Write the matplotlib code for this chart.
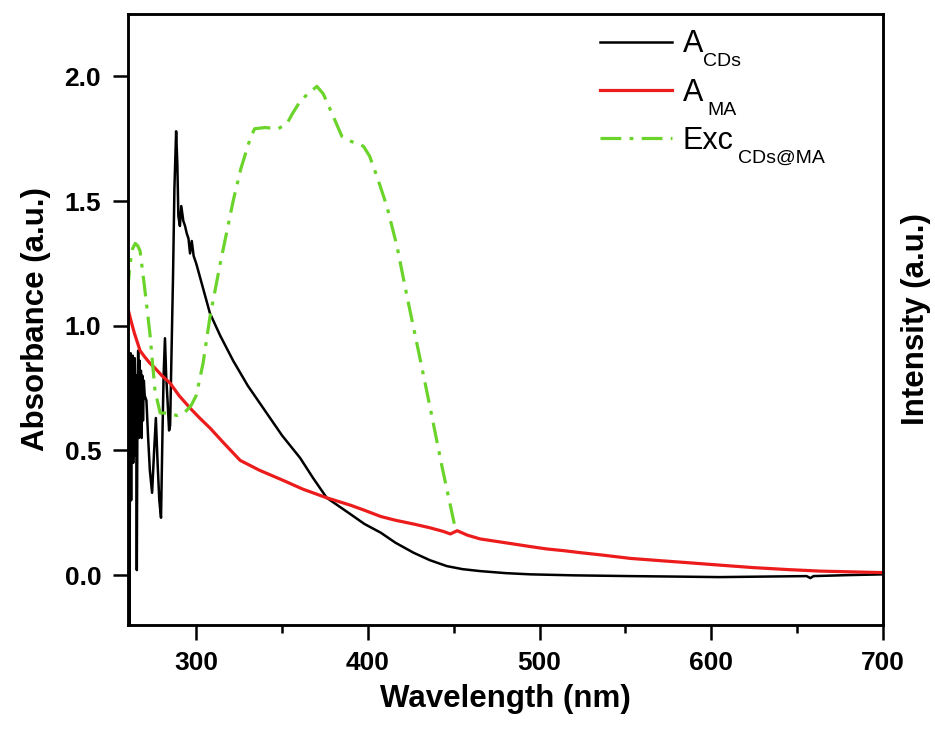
import matplotlib
matplotlib.use("Agg")
import matplotlib.pyplot as plt
from matplotlib.ticker import MultipleLocator, FormatStrFormatter

plt.rcParams['font.family'] = ['Liberation Sans', 'DejaVu Sans']

# A_CDs absorbance
cds_x = [260.0, 260.4, 260.8, 261.1, 261.5, 261.8, 262.1, 262.4, 262.7, 263.0, 263.3, 263.6,
         263.9, 264.2, 264.6, 265.0, 265.4, 265.8, 266.2, 266.6, 267.0, 267.4, 267.8, 268.2,
         268.6, 269.0, 269.5, 270.0, 271.0, 272.0,
         273.0, 274.3, 275.5, 276.5, 277.5, 278.5, 279.5, 280.3, 281.0, 281.8, 282.5, 283.3,
         284.2, 284.8, 285.5, 286.5, 287.3, 288.3, 289.0, 289.6, 290.5, 291.3, 292.5, 293.5,
         294.5, 295.5, 296.4, 297.4, 298.5, 300.0, 302.0, 306.0, 308.0, 314.0, 321.5, 330.0,
         341.0, 350.0, 360.5, 368.0, 376.0, 389.7, 398.0, 407.5, 416.0, 426.5, 436.0, 446.0,
         455.0, 465.4, 480.0, 494.6, 520.0, 552.8, 580.0, 605.0, 630.0, 655.5, 657.7, 659.5,
         680.0, 700.0]
cds_y = [0.85, 0.40, 0.88, -0.20, 0.60, 0.89, 0.30, 0.86, 0.50, 0.88, 0.45, 0.84,
         0.62, 0.87, 0.48, 0.80, 0.02, 0.72, 0.90, 0.55, 0.86, 0.60, 0.82, 0.55,
         0.80, 0.62, 0.78, 0.72, 0.70, 0.55,
         0.42, 0.33, 0.50, 0.63, 0.45, 0.30, 0.23, 0.55, 0.80, 0.95, 0.80, 0.70,
         0.58, 0.60, 0.85, 1.20, 1.55, 1.78, 1.65, 1.44, 1.40, 1.48, 1.42, 1.40,
         1.37, 1.35, 1.29, 1.34, 1.28, 1.25, 1.20, 1.10, 1.05, 0.96, 0.86, 0.76,
         0.65, 0.56, 0.47, 0.39, 0.31, 0.245, 0.205, 0.17, 0.13, 0.09, 0.06, 0.036,
         0.024, 0.016, 0.008, 0.003, -0.001, -0.004, -0.006, -0.008, -0.006, -0.004, -0.012, -0.004,
         0.000, 0.003]

# A_MA absorbance
ma_x = [260.0, 262.0, 264.0, 267.3, 270.0, 273.0, 276.0, 280.0, 284.8, 290.0, 296.4, 302.0,
        308.0, 316.0, 325.6, 337.0, 350.6, 362.0, 376.0, 390.0, 398.0, 407.5, 416.0, 426.5,
        436.0, 444.0, 448.0, 452.0, 458.0, 465.4, 475.0, 484.6, 494.0, 504.0, 514.0, 523.7,
        537.0, 552.8, 570.0, 585.9, 605.0, 624.6, 645.0, 663.5, 682.0, 700.0]
ma_y = [1.075, 1.02, 0.97, 0.90, 0.875, 0.85, 0.83, 0.80, 0.77, 0.72, 0.67, 0.63,
        0.59, 0.53, 0.46, 0.42, 0.38, 0.345, 0.31, 0.28, 0.26, 0.235, 0.22, 0.205,
        0.19, 0.175, 0.165, 0.178, 0.16, 0.145, 0.135, 0.125, 0.115, 0.105, 0.098, 0.09,
        0.08, 0.067, 0.058, 0.05, 0.04, 0.03, 0.022, 0.016, 0.013, 0.01]

# Exc_CDs@MA excitation
exc_x = [260.0, 261.5, 263.0, 264.5, 266.0, 267.3, 270.0, 273.0, 276.0, 279.0, 283.6, 288.7,
         293.0, 297.0, 300.0, 304.0, 308.0, 314.0, 321.5, 326.0, 331.4, 334.0, 340.0, 347.7,
         352.8, 356.0, 360.5, 365.0, 370.3, 374.0, 379.8, 384.8, 390.0, 397.4, 401.0, 405.2,
         411.0, 416.9, 422.7, 430.0, 436.0, 443.0, 450.8]
exc_y = [1.14, 1.25, 1.31, 1.33, 1.32, 1.30, 1.15, 0.97, 0.74, 0.65, 0.65, 0.64,
         0.65, 0.68, 0.72, 0.85, 1.035, 1.25, 1.50, 1.63, 1.75, 1.79, 1.795, 1.79,
         1.81, 1.85, 1.90, 1.93, 1.96, 1.93, 1.84, 1.76, 1.74, 1.72, 1.68, 1.60,
         1.48, 1.32, 1.12, 0.88, 0.68, 0.44, 0.19]

labels = ['A', 'A', 'Exc']
subs = ['CDs', 'MA', 'CDs@MA']
sub_gap = [0, 3, 3]

fig = plt.figure(figsize=(9.35, 7.29), dpi=100)
ax = fig.add_axes([0.1364, 0.1427, 0.808, 0.838])

ax.plot(cds_x, cds_y, color='black', lw=1.8, label=labels[0])
ax.plot(ma_x, ma_y, color='#ec1c1c', lw=2.3, label=labels[1])
ax.plot(exc_x, exc_y, color='#6bd42a', lw=2.3, dashes=(6.5, 2.6, 1.2, 2.6),
        label=labels[2])

ax.set_xlim(260, 700)
ax.set_ylim(-0.2, 2.25)
ax.xaxis.set_major_locator(MultipleLocator(100))
ax.xaxis.set_minor_locator(MultipleLocator(50))
ax.yaxis.set_major_locator(MultipleLocator(0.5))
ax.yaxis.set_major_formatter(FormatStrFormatter('%.1f'))

for s in ax.spines.values():
    s.set_linewidth(1.8)
ax.tick_params(which='major', direction='out', length=11, width=1.8,
               labelsize=19, pad=8)
ax.tick_params(which='minor', direction='out', length=6, width=1.8)
ax.tick_params(axis='both', which='both', top=False, right=False)
for lab in ax.get_xticklabels() + ax.get_yticklabels():
    lab.set_fontweight('bold')

ax.set_xlabel('Wavelength (nm)', fontsize=22.5, fontweight='bold', labelpad=6)
ax.set_ylabel('Absorbance (a.u.)', fontsize=22.5, fontweight='bold', labelpad=10)

ax2 = ax.twinx()
ax2.set_yticks([])
ax2.set_ylabel('Intensity (a.u.)', fontsize=22.5, fontweight='bold', labelpad=13)
for s in ax2.spines.values():
    s.set_linewidth(1.8)

leg = ax.legend(loc='upper left', frameon=False, fontsize=22, handlelength=2.35,
                handletextpad=0.36, labelspacing=0.6, borderpad=0, borderaxespad=0,
                bbox_to_anchor=(0.625, 0.975))
fig.canvas.draw()
# subscripts after each legend label
for t, sub, gap in zip(leg.get_texts(), subs, sub_gap):
    fig.add_artist(matplotlib.text.Annotation(
        sub, xy=(1, 0), xycoords=t, xytext=(gap, -5), textcoords='offset points',
        fontsize=14, va='baseline', ha='left'))

fig.savefig('out.png', dpi=100)
